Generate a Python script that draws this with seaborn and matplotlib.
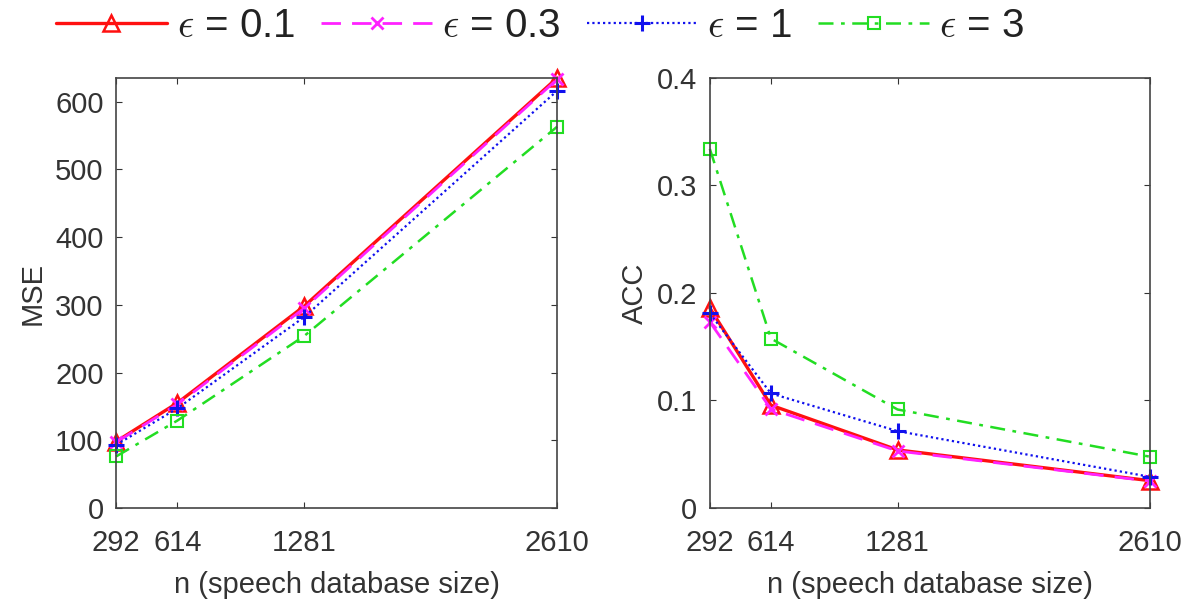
import matplotlib
matplotlib.use("Agg")
import matplotlib.pyplot as plt
import seaborn as sns
import pandas as pd

# Database sizes on the x-axis
sizes = [292, 614, 1281, 2610]

# Privacy budgets (one line per budget)
eps_labels = [r"$\epsilon$ = 0.1", r"$\epsilon$ = 0.3", r"$\epsilon$ = 1", r"$\epsilon$ = 3"]

# Mean squared error per budget
mse_01 = [98, 155, 298, 635]
mse_03 = [97, 153, 295, 633]
mse_1 = [93, 147, 282, 616]
mse_3 = [76, 129, 254, 563]

# Accuracy measure per budget
acc_01 = [0.186, 0.0956, 0.054, 0.0254]
acc_03 = [0.173, 0.092, 0.053, 0.025]
acc_1 = [0.181, 0.1065, 0.0715, 0.029]
acc_3 = [0.334, 0.1576, 0.0916, 0.0477]

mse_series = [mse_01, mse_03, mse_1, mse_3]
acc_series = [acc_01, acc_03, acc_1, acc_3]

styles = [
    dict(color="#ff1010", linestyle="-", marker="^", lw=2.4, ms=12, mew=1.8, mfc="none"),
    dict(color="#ff22ff", linestyle=(0, (7, 4)), marker="x", lw=2.0, ms=9, mew=2.0, mfc="none"),
    dict(color="#1010ee", linestyle=(0, (1, 1.4)), marker="+", lw=1.6, ms=12, mew=2.2, mfc="none"),
    dict(color="#22dd22", linestyle=(0, (6, 3, 1.5, 3)), marker="s", lw=1.8, ms=8, mew=1.5, mfc="none"),
]

sns.set_style("ticks")
plt.rcParams["font.family"] = ["Liberation Sans", "DejaVu Sans"]
plt.rcParams["mathtext.fontset"] = "cm"

TXT = "#333333"
fig = plt.figure(figsize=(11.89, 6.04), dpi=100)
ax1 = fig.add_axes([0.0976, 0.159, 0.371, 0.712])
ax2 = fig.add_axes([0.597, 0.159, 0.370, 0.712])


def draw(ax, series, ylabel, ylim, yticks, yfmt):
    for lab, vals, st in zip(eps_labels, series, styles):
        df = pd.DataFrame({"n": sizes, "v": vals})
        sns.lineplot(data=df, x="n", y="v", ax=ax, label=lab,
                     color=st["color"], linestyle=st["linestyle"], marker=st["marker"],
                     linewidth=st["lw"], markersize=st["ms"], markeredgewidth=st["mew"],
                     markerfacecolor=st["mfc"], markeredgecolor=st["color"], clip_on=False)
    ax.set_xlim(sizes[0], sizes[-1])
    ax.set_ylim(*ylim)
    ax.set_xticks(sizes)
    ax.set_xticklabels([str(s) for s in sizes])
    ax.set_yticks(yticks)
    ax.set_yticklabels([yfmt(t) for t in yticks])
    ax.set_xlabel("n (speech database size)", fontsize=21, color=TXT, labelpad=10)
    ax.set_ylabel(ylabel, fontsize=21, color=TXT, labelpad=6)
    ax.tick_params(direction="in", length=4, width=0.8, top=True, right=True,
                   labelsize=21, colors=TXT)
    ax.tick_params(axis="x", pad=15)
    ax.tick_params(axis="y", pad=9)
    for sp in ax.spines.values():
        sp.set_visible(True)
        sp.set_color("#444444")
        sp.set_linewidth(1.2)
    leg = ax.get_legend()
    if leg is not None:
        leg.remove()


draw(ax1, mse_series, "MSE", (0, 635), [0, 100, 200, 300, 400, 500, 600], lambda t: f"{t:d}")
draw(ax2, acc_series, "ACC", (0, 0.4), [0, 0.1, 0.2, 0.3, 0.4], lambda t: "0" if t == 0 else f"{t:.1f}")

handles, labels = ax1.get_legend_handles_labels()
fig.legend(handles, labels, loc="center left", bbox_to_anchor=(0.047, 0.957), ncol=4,
           frameon=False, fontsize=29, handlelength=2.75, handletextpad=0.25,
           columnspacing=0.65, borderpad=0, borderaxespad=0, labelcolor="#222222")

fig.savefig("out.png", dpi=100)
